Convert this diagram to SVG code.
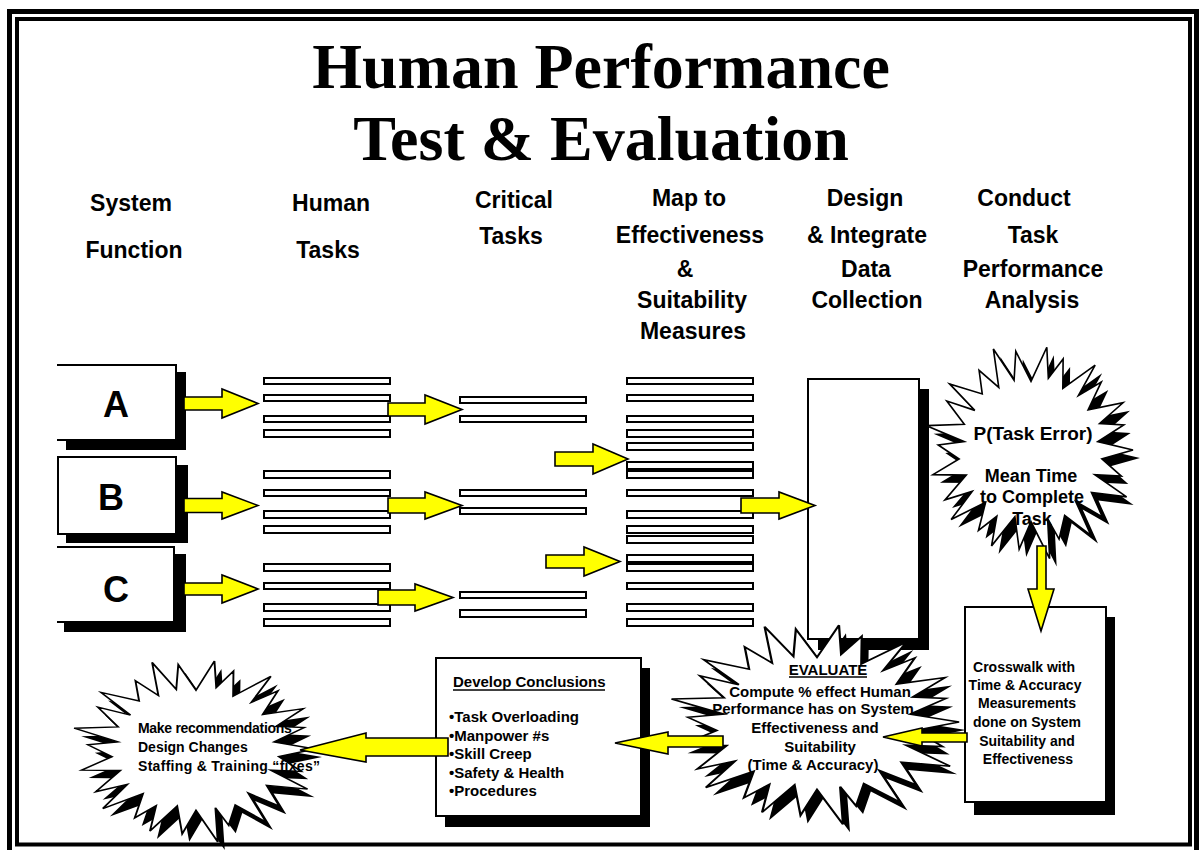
<svg xmlns="http://www.w3.org/2000/svg" xmlns:xlink="http://www.w3.org/1999/xlink" width="1199" height="850" viewBox="0 0 1199 850">
<style>
.title{font-family:"Liberation Serif","Times New Roman",serif;font-weight:bold;font-size:64px;text-anchor:middle;fill:#000}
.hdr{font-family:"Liberation Sans",Arial,sans-serif;font-weight:bold;font-size:23px;text-anchor:middle;fill:#000}
.big{font-family:"Liberation Sans",Arial,sans-serif;font-weight:bold;font-size:36px;text-anchor:middle;fill:#000}
.t{font-family:"Liberation Sans",Arial,sans-serif;font-weight:bold;font-size:15px;fill:#000}
.tc{font-family:"Liberation Sans",Arial,sans-serif;font-weight:bold;font-size:15px;fill:#000;text-anchor:middle}
.box{fill:#fff;stroke:#000;stroke-width:2}
.open{fill:#fff;stroke:none}
.edge{fill:none;stroke:#000;stroke-width:2}
.shadow{fill:#000}
.bar{fill:#fff;stroke:#000;stroke-width:2}
.arr{fill:#ffff00;stroke:#000;stroke-width:1.6;stroke-linejoin:miter}
.burst{fill:#fff;stroke:#000;stroke-width:1.6;vector-effect:non-scaling-stroke}
.burstsh{fill:#000}
.ul{stroke:#000;stroke-width:1.5}
</style>
<defs>
<path id="star" d="M100,0 L69.5,8.5 L88.5,25.1 L62.6,23.7 L93.7,45.1 L59.3,40.9 L70,64.3 L43.8,49.4 L58.8,82.1 L33,62.8 L27.5,85.7 L16.3,66 L18.3,104.4 L0,69 L-11.6,95.3 L-15.8,64.1 L-38.7,92.2 L-33.5,63.7 L-51.5,77.4 L-44.5,50.2 L-78.3,66.9 L-57.6,39.8 L-84.3,48 L-63.5,24.1 L-96.1,23.7 L-70.5,8.6 L-90.9,-4.8 L-65.5,-8 L-102.4,-23.4 L-65.4,-24.8 L-82.5,-47.1 L-55.1,-38.1 L-79.8,-63.6 L-47.8,-53.9 L-50.9,-76.6 L-31.6,-60.2 L-36.9,-97.2 L-16.6,-67 L-14.9,-94.8 L0,-66 L15.5,-98.8 L17,-69 L31.5,-87.5 L31.2,-59.3 L62.9,-81.6 L46.5,-52.4 L68.9,-65.4 L56,-38.7 L90.2,-45.4 L67.3,-25.5 L90.9,-24.1 L65.5,-8 Z"/>
</defs>
<rect x="0" y="0" width="1199" height="850" fill="#fff"/>
<g id="frame">
<rect x="9.5" y="11.5" width="1187" height="846" fill="none" stroke="#000" stroke-width="5"/>
<rect x="17" y="19" width="1173" height="825.5" fill="none" stroke="#000" stroke-width="4"/>
</g>
<g id="title">
<text class="title" x="601" y="88">Human Performance</text>
<text class="title" x="601" y="160">Test &amp; Evaluation</text>
</g>
<g id="headers">
<text class="hdr" x="131" y="211">System</text>
<text class="hdr" x="134" y="258">Function</text>
<text class="hdr" x="331" y="211">Human</text>
<text class="hdr" x="328" y="258">Tasks</text>
<text class="hdr" x="514" y="208">Critical</text>
<text class="hdr" x="511" y="244">Tasks</text>
<text class="hdr" x="689" y="206">Map to</text>
<text class="hdr" x="690" y="243">Effectiveness</text>
<text class="hdr" x="685" y="277">&amp;</text>
<text class="hdr" x="692" y="308">Suitability</text>
<text class="hdr" x="693" y="339">Measures</text>
<text class="hdr" x="865" y="206">Design</text>
<text class="hdr" x="867" y="243">&amp; Integrate</text>
<text class="hdr" x="866" y="277">Data</text>
<text class="hdr" x="867" y="308">Collection</text>
<text class="hdr" x="1024" y="206">Conduct</text>
<text class="hdr" x="1033" y="243">Task</text>
<text class="hdr" x="1033" y="277">Performance</text>
<text class="hdr" x="1032" y="308">Analysis</text>
</g>
<g id="funcA">
<rect class="shadow" x="66" y="372" width="120" height="78"/>
<rect class="open" x="57" y="365" width="119" height="75"/>
<path class="edge" d="M57,365 H176 V440 H57"/>
<text class="big" x="116" y="417">A</text>
</g>
<g id="funcB">
<rect class="shadow" x="66" y="465" width="122" height="78"/>
<rect class="box" x="58" y="457" width="118" height="77"/>
<text class="big" x="111" y="510">B</text>
</g>
<g id="funcC">
<rect class="shadow" x="64" y="554" width="122" height="78"/>
<rect class="open" x="57" y="547" width="117" height="75"/>
<path class="edge" d="M57,547 H174 V622 H57"/>
<text class="big" x="116" y="602">C</text>
</g>
<g id="humanTasks">
<rect class="bar" x="264" y="378" width="126" height="6"/>
<rect class="bar" x="264" y="395" width="126" height="6"/>
<rect class="bar" x="264" y="416" width="126" height="6"/>
<rect class="bar" x="264" y="430" width="126" height="7"/>
<rect class="bar" x="264" y="471" width="126" height="7"/>
<rect class="bar" x="264" y="490" width="126" height="6"/>
<rect class="bar" x="264" y="511" width="126" height="7"/>
<rect class="bar" x="264" y="526" width="126" height="7"/>
<rect class="bar" x="264" y="564" width="126" height="7"/>
<rect class="bar" x="264" y="583" width="126" height="6"/>
<rect class="bar" x="264" y="604" width="126" height="7"/>
<rect class="bar" x="264" y="619" width="126" height="7"/>
</g>
<g id="criticalTasks">
<rect class="bar" x="460" y="397" width="126" height="6"/>
<rect class="bar" x="460" y="416" width="126" height="6"/>
<rect class="bar" x="460" y="490" width="126" height="6"/>
<rect class="bar" x="460" y="508" width="126" height="6"/>
<rect class="bar" x="460" y="592" width="126" height="6"/>
<rect class="bar" x="460" y="610" width="126" height="7"/>
</g>
<g id="mapMeasures">
<rect class="bar" x="627" y="378" width="126" height="6"/>
<rect class="bar" x="627" y="395" width="126" height="6"/>
<rect class="bar" x="627" y="416" width="126" height="6"/>
<rect class="bar" x="627" y="430" width="126" height="7"/>
<rect class="bar" x="627" y="443" width="126" height="7"/>
<rect class="bar" x="627" y="462" width="126" height="7"/>
<rect class="bar" x="627" y="471" width="126" height="7"/>
<rect class="bar" x="627" y="490" width="126" height="6"/>
<rect class="bar" x="627" y="511" width="126" height="7"/>
<rect class="bar" x="627" y="526" width="126" height="7"/>
<rect class="bar" x="627" y="536" width="126" height="7"/>
<rect class="bar" x="627" y="555" width="126" height="7"/>
<rect class="bar" x="627" y="564" width="126" height="7"/>
<rect class="bar" x="627" y="583" width="126" height="6"/>
<rect class="bar" x="627" y="604" width="126" height="7"/>
<rect class="bar" x="627" y="619" width="126" height="7"/>
</g>
<g id="dataCollection">
<rect class="shadow" x="818" y="389" width="111" height="261"/>
<rect class="box" x="808" y="379" width="111" height="260"/>
</g>
<g id="taskAnalysis">
<use xlink:href="#star" class="burstsh" transform="translate(1038,458) scale(1.02,1.04)"/>
<use xlink:href="#star" class="burst" transform="translate(1031,450) scale(1.02,1.04)"/>
<text class="tc" x="1033" y="440" style="font-size:19px">P(Task Error)</text>
<text class="tc" x="1031" y="482" style="font-size:18px">Mean Time</text>
<text class="tc" x="1032" y="503" style="font-size:18px">to Complete</text>
<text class="tc" x="1032" y="525" style="font-size:18px">Task</text>
</g>
<g id="crosswalk">
<rect class="shadow" x="974" y="617" width="141" height="198"/>
<rect class="box" x="965" y="607" width="141" height="195"/>
<text class="tc" x="1024" y="672" style="font-size:14px">Crosswalk with</text>
<text class="tc" x="1025" y="690" style="font-size:14px">Time &amp; Accuracy</text>
<text class="tc" x="1027" y="708" style="font-size:14px">Measurements</text>
<text class="tc" x="1027" y="727" style="font-size:14px">done on System</text>
<text class="tc" x="1027" y="746" style="font-size:14px">Suitability and</text>
<text class="tc" x="1028" y="764" style="font-size:14px">Effectiveness</text>
</g>
<g id="evaluate">
<use xlink:href="#star" class="burstsh" transform="translate(824,730) scale(1.42,0.98)"/>
<use xlink:href="#star" class="burst" transform="translate(817,722) scale(1.42,0.98)"/>
<text class="tc" x="828" y="675">EVALUATE</text>
<line class="ul" x1="789" y1="677" x2="867" y2="677"/>
<text class="tc" x="820" y="697">Compute % effect Human</text>
<text class="tc" x="813" y="714">Performance has on System</text>
<text class="tc" x="815" y="733">Effectiveness and</text>
<text class="tc" x="820" y="752">Suitability</text>
<text class="tc" x="813" y="770">(Time &amp; Accuracy)</text>
</g>
<g id="conclusions">
<rect class="shadow" x="445" y="668" width="205" height="159"/>
<rect class="box" x="436" y="658" width="205" height="158"/>
<text class="t" x="453" y="687">Develop Conclusions</text>
<line class="ul" x1="453" y1="690" x2="605" y2="690"/>
<text class="t" x="449" y="722">•Task Overloading</text>
<text class="t" x="449" y="740.5">•Manpower #s</text>
<text class="t" x="449" y="759">•Skill Creep</text>
<text class="t" x="449" y="777.5">•Safety &amp; Health</text>
<text class="t" x="449" y="796">•Procedures</text>
</g>
<g id="recommendations">
<use xlink:href="#star" class="burstsh" transform="translate(203,757) scale(1.19,0.89)"/>
<use xlink:href="#star" class="burst" transform="translate(196,749) scale(1.19,0.89)"/>
<text class="t" x="138" y="733" style="font-size:14px;letter-spacing:-0.3px">Make recommendations</text>
<text class="t" x="138" y="752" style="font-size:14px">Design Changes</text>
<text class="t" x="138" y="771" style="font-size:14px;letter-spacing:0.3px">Staffing &amp; Training “fixes”</text>
</g>
<g id="connectors">
<polygon class="arr" points="184,397 222,397 222,389 258,403.5 222,418 222,410 184,410"/>
<polygon class="arr" points="184,498.5 222,498.5 222,492 258,505.5 222,519 222,512.5 184,512.5"/>
<polygon class="arr" points="184,583 222,583 222,575 258,589 222,603 222,595 184,595"/>
<polygon class="arr" points="388,403 425,403 425,395 462,409.5 425,424 425,416 388,416"/>
<polygon class="arr" points="388,498 425,498 425,492 462,505.5 425,519 425,513 388,513"/>
<polygon class="arr" points="378,590 415,590 415,584 453,597.5 415,611 415,605 378,605"/>
<polygon class="arr" points="555,452 593,452 593,444 628,459 593,474 593,466 555,466"/>
<polygon class="arr" points="546,555 584,555 584,547 620,561.5 584,576 584,568 546,568"/>
<polygon class="arr" points="741,498 779,498 779,492 815,505.5 779,519 779,513 741,513"/>
<polygon class="arr" points="1037,546 1046,546 1046,589 1054,589 1041,631 1028,589 1037,589"/>
<polygon class="arr" points="967,733 922,733 922,728 883,737 922,746 922,742 967,742"/>
<polygon class="arr" points="723,736 668,736 668,732 615,743 668,754 668,747 723,747"/>
<polygon class="arr" points="448,738 366,738 366,733 300,750 366,762 366,756 448,756"/>
</g>
</svg>
